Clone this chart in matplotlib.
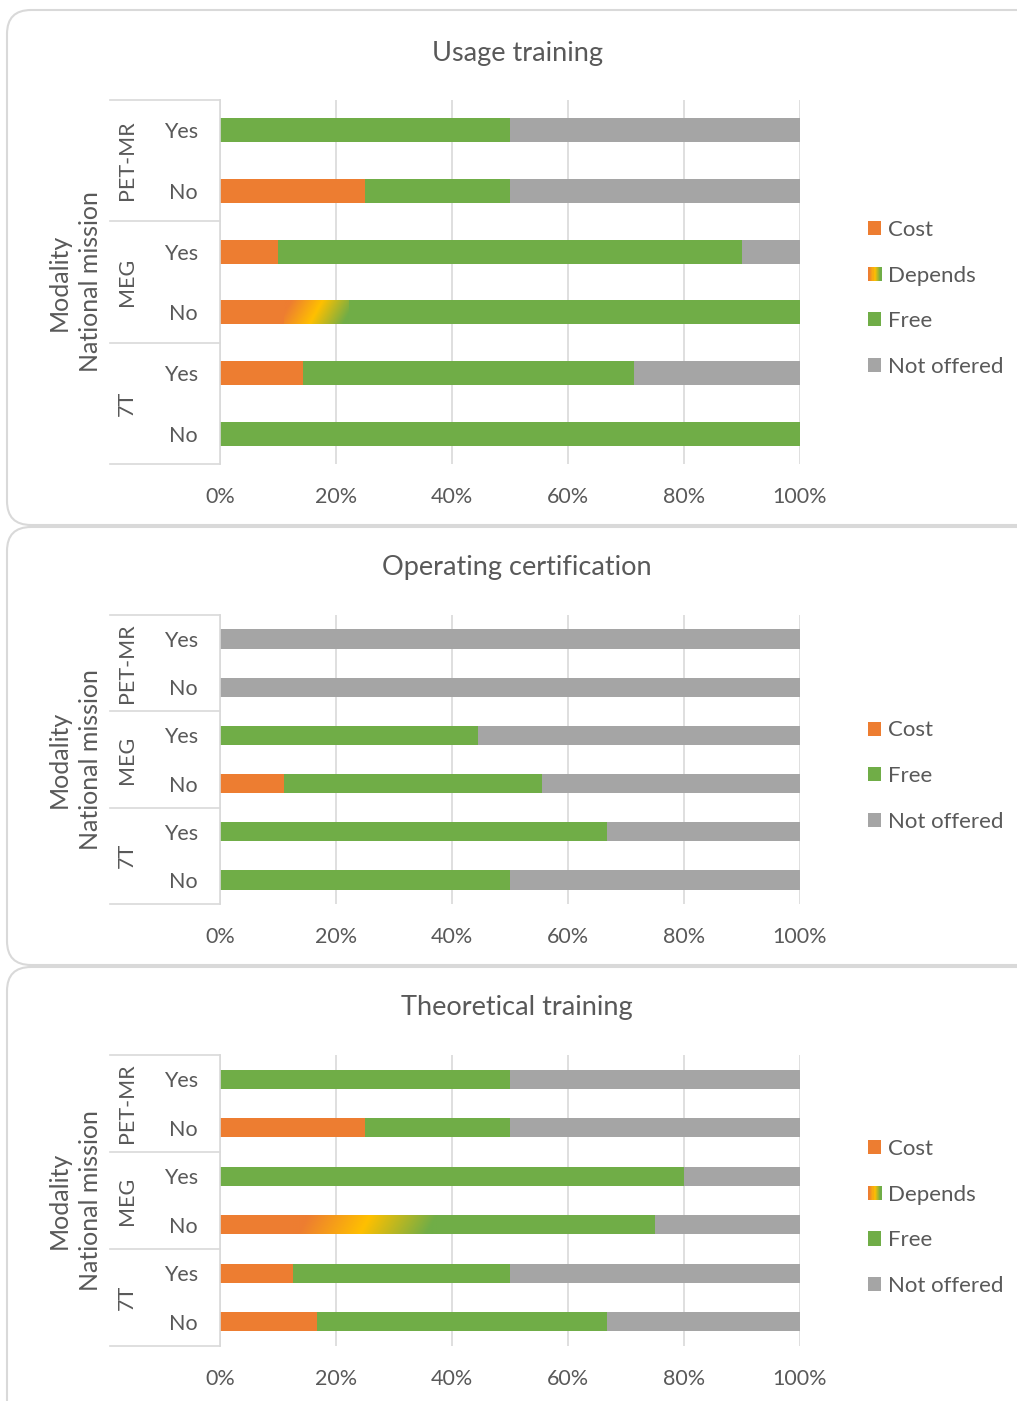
import matplotlib
matplotlib.use("Agg")
import matplotlib.pyplot as plt
import matplotlib.transforms as mtransforms
import numpy as np
from matplotlib.colors import LinearSegmentedColormap
from matplotlib.legend_handler import HandlerBase
from matplotlib.patches import Rectangle, FancyBboxPatch

plt.rcParams['font.family'] = ['Lato', 'DejaVu Sans']

# data (percent per row, top to bottom)
groups = ['PET-MR', 'MEG', '7T']
rows = ['Yes', 'No', 'Yes', 'No', 'Yes', 'No']

usage_cost = [0, 25, 10, 11.1, 14.3, 0]
usage_depends = [0, 0, 0, 11.1, 0, 0]
usage_free = [50, 25, 80, 77.8, 57.1, 100]
usage_not = [50, 50, 10, 0, 28.6, 0]

cert_cost = [0, 0, 0, 11.1, 0, 0]
cert_free = [0, 0, 44.4, 44.5, 66.7, 50]
cert_not = [100, 100, 55.6, 44.4, 33.3, 50]

theo_cost = [0, 25, 0, 12.5, 12.5, 16.7]
theo_depends = [0, 0, 0, 25, 0, 0]
theo_free = [50, 25, 80, 37.5, 37.5, 50]
theo_not = [50, 50, 20, 25, 50, 33.3]

ORANGE = '#ED7D31'
YELLOW = '#FFC000'
GREEN = '#70AD47'
GREY = '#A5A5A5'
TXT = '#595959'
LINE = '#D9D9D9'

grad = LinearSegmentedColormap.from_list(
    'dep', [(0, ORANGE), (0.1, ORANGE), (0.5, YELLOW), (0.93, GREEN), (1, GREEN)])

W, H = 1017, 1401
fig = plt.figure(figsize=(W / 100, H / 100), dpi=100)

# panel frames
bg = fig.add_axes([0, 0, 1, 1])
bg.set_xlim(0, W)
bg.set_ylim(H, 0)
bg.axis('off')
for y0, y1 in [(10, 525), (527, 965), (967, 1430)]:
    bg.add_patch(FancyBboxPatch((7, y0), 1040, y1 - y0,
                                boxstyle='round,pad=0,rounding_size=24',
                                ec=LINE, fc='white', lw=1.5))


class GradHandler(HandlerBase):
    # small gradient square for the legend
    def create_artists(self, legend, orig_handle, xdescent, ydescent,
                       width, height, fontsize, trans):
        n = 12
        arts = []
        for k in range(n):
            r = Rectangle((-xdescent + k * width / n, -ydescent), width / n + 0.3, height,
                          fc=grad((k + 0.5) / n), ec='none', transform=trans)
            arts.append(r)
        return arts


def panel(title, top, bottom, cost, free, notoff, depends=None, bar_h=0.4):
    ax = fig.add_axes([220 / W, 1 - bottom / H, 580 / W, (bottom - top) / H])
    ax.patch.set_alpha(0)
    y = np.arange(len(rows))
    left = np.zeros(len(rows))
    series = [('Cost', cost, ORANGE)]
    if depends is not None:
        series.append(('Depends', depends, None))
    series += [('Free', free, GREEN), ('Not offered', notoff, GREY)]
    handles = []
    hmap = {}
    for name, vals, col in series:
        vals = np.array(vals, dtype=float)
        if col is None:
            bars = ax.barh(y, vals, left=left, height=bar_h, color='none', lw=0)
            for b, v in zip(bars, vals):
                if v <= 0:
                    continue
                x0 = b.get_x()
                yc = b.get_y()
                hp = (bottom - top) / 6 * bar_h
                wp = v * 5.8
                jj = np.linspace(0, 1, 200)[None, :]
                ii = np.linspace(0, 1, 30)[:, None]
                t = jj * wp + ii * hp * 0.55
                t = t / t.max()
                im = ax.imshow(t, cmap=grad, aspect='auto', interpolation='bilinear',
                               extent=[x0, x0 + v, yc + bar_h, yc], origin='upper', zorder=2)
                im.set_clip_path(b)
            h = Rectangle((0, 0), 1, 1)
            hmap[h] = GradHandler()
            handles.append((h, name))
        else:
            ax.barh(y, vals, left=left, height=bar_h, color=col, lw=0, zorder=2)
            handles.append((Rectangle((0, 0), 1, 1, fc=col, ec='none'), name))
        left = left + vals

    ax.set_xlim(0, 100)
    ax.set_ylim(5.5, -0.5)
    ax.set_xticks(np.arange(0, 101, 20))
    ax.set_xticklabels([f'{v}%' for v in range(0, 101, 20)])
    ax.grid(axis='x', color=LINE, lw=1.2, zorder=0)
    ax.set_axisbelow(True)
    ax.tick_params(axis='x', length=0, pad=16.5, labelsize=15.5, colors=TXT)
    ax.set_yticks(y)
    ax.set_yticklabels(rows)
    ax.tick_params(axis='y', length=0, pad=16, labelsize=15.5, colors=TXT)
    for s in ['top', 'right', 'bottom']:
        ax.spines[s].set_visible(False)
    ax.spines['left'].set_color(LINE)
    ax.spines['left'].set_linewidth(1.2)

    trans = mtransforms.blended_transform_factory(ax.transAxes, ax.transData)
    x_sep = (110 - 220) / 580
    for yy in [-0.5, 1.5, 3.5, 5.5]:
        ax.plot([x_sep, 0], [yy, yy], color=LINE, lw=1.2, transform=trans, clip_on=False)
    x_grp = (127 - 220) / 580
    for g, name in enumerate(groups):
        ax.text(x_grp, 2 * g + 0.5, name, rotation=90, ha='center', va='center',
                fontsize=15.5, color=TXT, transform=trans)

    yc = (top + bottom) / 2
    fig.text(75 / W, 1 - yc / H, 'Modality\nNational mission', rotation=90,
             ha='center', va='center', fontsize=18, color=TXT, linespacing=1.45)
    fig.text(517 / W, 1 - (top - 47) / H, title, ha='center', va='center',
             fontsize=19.5, color=TXT)
    return ax, handles, hmap


def add_legend(ax, handles, hmap, yc):
    leg = ax.legend([h for h, _ in handles], [n for _, n in handles], handler_map=hmap,
                    loc='center left', bbox_to_anchor=(868 / W, 1 - yc / H),
                    bbox_transform=fig.transFigure, frameon=False, fontsize=16,
                    borderpad=0, borderaxespad=0, handlelength=0.6, handleheight=0.6,
                    handletextpad=0.32, labelspacing=1.15, labelcolor=TXT)
    return leg


ax1, h1, m1 = panel('Usage training', 100, 464, usage_cost, usage_free, usage_not, usage_depends)
add_legend(ax1, h1, m1, 298.5)
ax2, h2, m2 = panel('Operating certification', 615, 904, cert_cost, cert_free, cert_not)
add_legend(ax2, h2, m2, 776)
ax3, h3, m3 = panel('Theoretical training', 1055, 1346, theo_cost, theo_free, theo_not, theo_depends)
add_legend(ax3, h3, m3, 1217.5)

fig.savefig('out.png', dpi=100)
